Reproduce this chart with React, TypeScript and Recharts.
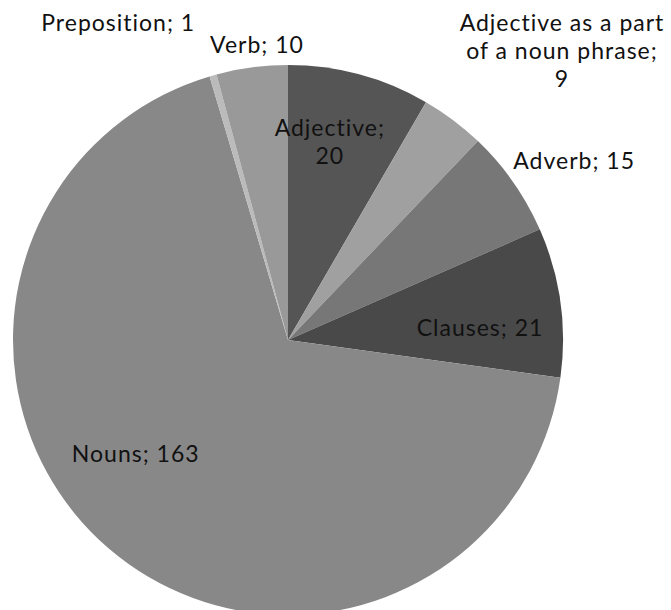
import { PieChart, Pie, Cell } from "recharts";

// word classes and counts, clockwise from 12 o'clock
const categories = [
  "Adjective",
  "Adjective as a part of a noun phrase",
  "Adverb",
  "Clauses",
  "Nouns",
  "Preposition",
  "Verb",
];
const counts = [20, 9, 15, 21, 163, 1, 10];
const colors = ["#555555", "#a0a0a0", "#777777", "#494949", "#888888", "#bbbbbb", "#999999"];

// label lines as shown in the chart
const labelLines: string[][] = [
  ["Adjective;", "20"],
  ["Adjective as a part", "of a noun phrase;", "9"],
  ["Adverb; 15"],
  ["Clauses; 21"],
  ["Nouns; 163"],
  ["Preposition; 1"],
  ["Verb; 10"],
];

// label placement: radius factor and clockwise angle shift (deg)
const labelPlace = [
  { rf: 0.74, da: -3.2 },
  { rf: 1.45, da: 6.5 },
  { rf: 1.23, da: 2.8 },
  { rf: 0.7, da: 3.9 },
  { rf: 0.69, da: 12.7 },
  { rf: 1.31, da: -12.3 },
  { rf: 1.082, da: 1.55 },
];

const data = categories.map((name, i) => ({ name, value: counts[i] }));

const RAD = Math.PI / 180;
const FONT = "Lato, 'Open Sans', sans-serif";

function renderLabel(props: any) {
  const { cx, cy, midAngle, outerRadius, index } = props;
  const p = labelPlace[index];
  const ang = midAngle - p.da;
  const r = outerRadius * p.rf;
  const x = cx + r * Math.cos(-ang * RAD);
  const y = cy + r * Math.sin(-ang * RAD);
  const lines = labelLines[index];
  const lh = 28;
  const y0 = y - ((lines.length - 1) * lh) / 2;
  return (
    <text
      key={index}
      x={x}
      y={y0}
      textAnchor="middle"
      dominantBaseline="central"
      fontFamily={FONT}
      fontSize={23}
      letterSpacing={1}
      fill="#111"
    >
      {lines.map((l, j) => (
        <tspan key={j} x={x} y={y0 + j * lh}>
          {l}
        </tspan>
      ))}
    </text>
  );
}

export default function App() {
  return (
    <div style={{ position: "absolute", left: 0, top: 0, width: 671, height: 610, background: "#fff" }}>
      <PieChart width={671} height={610} margin={{ top: 0, right: 0, bottom: 0, left: 0 }}>
        <Pie
          data={data}
          dataKey="value"
          nameKey="name"
          cx={288}
          cy={340}
          outerRadius={275}
          startAngle={90}
          endAngle={-270}
          stroke="none"
          label={renderLabel}
          labelLine={false}
          isAnimationActive={false}
        >
          {data.map((d, i) => (
            <Cell key={d.name} fill={colors[i]} />
          ))}
        </Pie>
      </PieChart>
    </div>
  );
}
